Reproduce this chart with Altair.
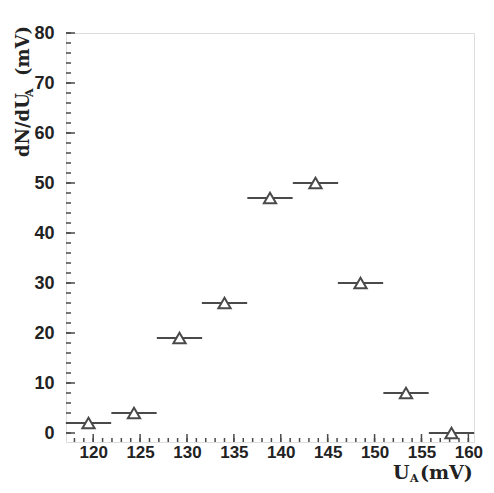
import altair as alt
import pandas as pd

# Data
bin_centers = [119.5, 124.35, 129.2, 134.0, 138.85, 143.7, 148.5, 153.35, 158.2]
counts = [2, 4, 19, 26, 47, 50, 30, 8, 0]
bin_width = 4.83

x_domain = [117.1, 160.6]
y_domain = [-1.8, 80]
x_major = [120, 125, 130, 135, 140, 145, 150, 155, 160]
x_minor = list(range(118, 161))
y_major = [0, 10, 20, 30, 40, 50, 60, 70, 80]
y_minor = list(range(0, 81, 2))

W, H = 408, 409
LINE = "#4a4a4a"
LABEL_FONT = "Liberation Sans"
TITLE_FONT = "DejaVu Serif"

df = pd.DataFrame({
    "x": bin_centers,
    "lo": [c - bin_width / 2 for c in bin_centers],
    "hi": [c + bin_width / 2 for c in bin_centers],
    "y": counts,
})

xs = alt.Scale(domain=x_domain, nice=False, zero=False)
ys = alt.Scale(domain=y_domain, nice=False, zero=False)

x_axis = alt.Axis(values=x_major, ticks=False, domain=False, grid=False, title=None,
                  labelFont=LABEL_FONT, labelFontWeight="bold", labelFontSize=17,
                  labelColor="#222", labelPadding=2, labelBaseline="top")
y_axis = alt.Axis(values=y_major, ticks=False, domain=False, grid=False, title=None,
                  labelFont=LABEL_FONT, labelFontWeight="bold", labelFontSize=18,
                  labelColor="#222", labelPadding=12)

bars = alt.Chart(df).mark_rule(color=LINE, strokeWidth=2).encode(
    x=alt.X("lo:Q", scale=xs, axis=x_axis),
    x2="hi:Q",
    y=alt.Y("y:Q", scale=ys, axis=y_axis),
)

points = alt.Chart(df).mark_point(shape="triangle-up", size=150, filled=True,
                                  fill="white", stroke=LINE, strokeWidth=2,
                                  opacity=1).encode(
    x=alt.X("x:Q", scale=xs),
    y=alt.Y("y:Q", scale=ys),
)

ymaj = alt.Chart(pd.DataFrame({"v": y_major})).mark_rule(color=LINE, strokeWidth=1.5).encode(
    y=alt.Y("v:Q", scale=ys), x=alt.value(0), x2=alt.value(9))
ymin = alt.Chart(pd.DataFrame({"v": y_minor})).mark_rule(color=LINE, strokeWidth=1.5).encode(
    y=alt.Y("v:Q", scale=ys), x=alt.value(0), x2=alt.value(5))
xmaj = alt.Chart(pd.DataFrame({"v": x_major})).mark_rule(color=LINE, strokeWidth=1.5).encode(
    x=alt.X("v:Q", scale=xs), y=alt.value(H), y2=alt.value(H - 8))
xmin = alt.Chart(pd.DataFrame({"v": x_minor})).mark_rule(color=LINE, strokeWidth=1.5).encode(
    x=alt.X("v:Q", scale=xs), y=alt.value(H), y2=alt.value(H - 4))


def txt(t, x, y, size, angle=0, align="left"):
    return alt.Chart(pd.DataFrame({"t": [t]})).mark_text(
        font=TITLE_FONT, fontWeight="bold", fontSize=size, color="#222",
        align=align, baseline="alphabetic", angle=angle,
    ).encode(text="t:N", x=alt.value(x), y=alt.value(y))


titles = [
    txt("dN/dU", -37, 124, 18, angle=270),
    txt("A", -33, 64, 11, angle=270),
    txt("(mV)", -37, 43, 18, angle=270),
    txt("U", 327, 446, 19),
    txt("A", 344, 449, 11),
    txt("(mV)", 354, 446, 19),
]

chart = alt.layer(bars, points, ymaj, ymin, xmaj, xmin, *titles).properties(
    width=W, height=H,
    autosize=alt.AutoSizeParams(type="none"),
    padding={"left": 58, "top": 25, "right": 12, "bottom": 43},
).configure_view(stroke=LINE, strokeWidth=2).configure(background="white")

chart.save("out.html", embed_options={"renderer": "svg", "actions": False})
